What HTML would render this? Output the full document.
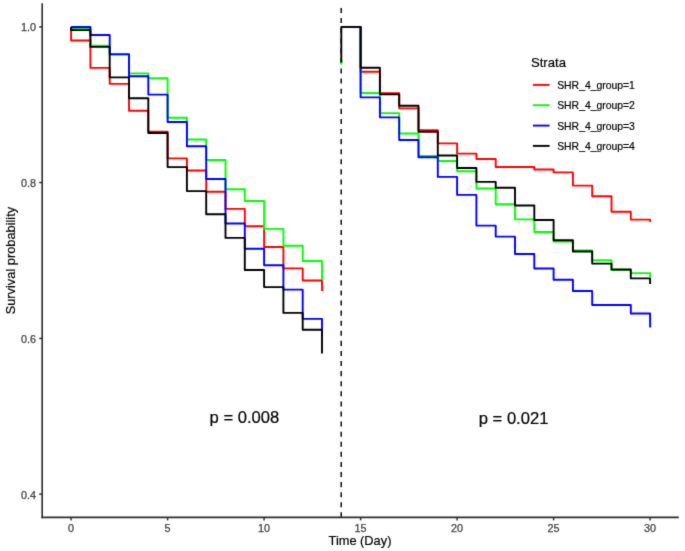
<!DOCTYPE html>
<html><head><meta charset="utf-8"><title>Survival plot</title>
<style>
html,body{margin:0;padding:0;background:#fff;width:685px;height:551px;overflow:hidden}
svg{display:block}
text{font-family:"Liberation Sans",sans-serif}
.tl{font-size:10.2px;fill:#404040;stroke:#404040;stroke-width:0.25px}
.ti{font-size:12.8px;fill:#000;stroke:#000;stroke-width:0.2px}
.pv{font-size:16.6px;fill:#000;stroke:#000;stroke-width:0.2px}
.lt{font-size:13.1px;fill:#000;stroke:#000;stroke-width:0.2px}
.ll{font-size:10.4px;fill:#000;stroke:#000;stroke-width:0.2px}
</style></head><body>
<svg width="685" height="551" viewBox="0 0 685 551">
<defs><filter id="bl" color-interpolation-filters="sRGB" x="0" y="0" width="685" height="551" filterUnits="userSpaceOnUse"><feConvolveMatrix order="3" kernelMatrix="0.02 0.08 0.02 0.08 0.6 0.08 0.02 0.08 0.02" edgeMode="duplicate" preserveAlpha="true"/></filter></defs>
<g filter="url(#bl)">
<rect width="685" height="551" fill="#fff"/>
<line x1="341.2" y1="517.4" x2="341.2" y2="3.3" stroke="#1a1a1a" stroke-width="1.6" stroke-dasharray="5.044,5.044"/>
<g fill="none" stroke-width="1.9" stroke-linejoin="round" stroke-linecap="butt">
<path d="M341.3,64.6 L341.3,60" stroke="#00ff00"/>
<path d="M71.1,26.9 L71.1,40.5 L90.4,40.5 L90.4,67.9 L109.7,67.9 L109.7,83.9 L129.0,83.9 L129.0,110.8 L148.3,110.8 L148.3,131.6 L167.6,131.6 L167.6,158.4 L186.9,158.4 L186.9,170.5 L206.2,170.5 L206.2,191.7 L225.5,191.7 L225.5,208.9 L244.8,208.9 L244.8,226.3 L264.1,226.3 L264.1,247.0 L283.4,247.0 L283.4,268.4 L302.7,268.4 L302.7,280.5 L322.0,280.5 L322.0,291.0" stroke="#ff0000"/>
<path d="M341.3,26.9 L360.6,26.9 L360.6,71.7 L379.9,71.7 L379.9,93.2 L399.2,93.2 L399.2,108.4 L418.5,108.4 L418.5,130.1 L437.8,130.1 L437.8,143.4 L457.1,143.4 L457.1,153.6 L476.4,153.6 L476.4,159.0 L495.7,159.0 L495.7,167.0 L515.0,167.0 L515.0,167.0 L534.3,167.0 L534.3,169.5 L553.6,169.5 L553.6,172.4 L572.9,172.4 L572.9,185.6 L592.2,185.6 L592.2,196.2 L611.5,196.2 L611.5,211.7 L630.8,211.7 L630.8,219.6 L650.1,219.6 L650.1,222.0" stroke="#ff0000"/>
<path d="M71.1,26.9 L71.1,28.5 L90.4,28.5 L90.4,45.8 L109.7,45.8 L109.7,54.9 L129.0,54.9 L129.0,73.4 L148.3,73.4 L148.3,78.2 L167.6,78.2 L167.6,117.7 L186.9,117.7 L186.9,139.5 L206.2,139.5 L206.2,160.0 L225.5,160.0 L225.5,189.2 L244.8,189.2 L244.8,201.0 L264.1,201.0 L264.1,228.9 L283.4,228.9 L283.4,245.8 L302.7,245.8 L302.7,261.0 L322.0,261.0 L322.0,280.0" stroke="#00ff00"/>
<path d="M341.3,26.9 L360.6,26.9 L360.6,93.0 L379.9,93.0 L379.9,113.1 L399.2,113.1 L399.2,133.5 L418.5,133.5 L418.5,156.0 L437.8,156.0 L437.8,161.0 L457.1,161.0 L457.1,171.3 L476.4,171.3 L476.4,188.5 L495.7,188.5 L495.7,204.2 L515.0,204.2 L515.0,219.4 L534.3,219.4 L534.3,232.0 L553.6,232.0 L553.6,241.6 L572.9,241.6 L572.9,250.5 L592.2,250.5 L592.2,260.3 L611.5,260.3 L611.5,270.0 L630.8,270.0 L630.8,273.1 L650.1,273.1 L650.1,277.0" stroke="#00ff00"/>
<path d="M71.1,26.9 L71.1,27.0 L90.4,27.0 L90.4,35.0 L109.7,35.0 L109.7,54.1 L129.0,54.1 L129.0,76.3 L148.3,76.3 L148.3,94.6 L167.6,94.6 L167.6,122.0 L186.9,122.0 L186.9,146.2 L206.2,146.2 L206.2,179.0 L225.5,179.0 L225.5,223.5 L244.8,223.5 L244.8,248.8 L264.1,248.8 L264.1,265.3 L283.4,265.3 L283.4,289.6 L302.7,289.6 L302.7,318.9 L322.0,318.9 L322.0,336.7" stroke="#0000ff"/>
<path d="M341.3,26.9 L360.6,26.9 L360.6,97.4 L379.9,97.4 L379.9,117.4 L399.2,117.4 L399.2,140.0 L418.5,140.0 L418.5,157.2 L437.8,157.2 L437.8,176.9 L457.1,176.9 L457.1,194.9 L476.4,194.9 L476.4,225.6 L495.7,225.6 L495.7,236.6 L515.0,236.6 L515.0,254.0 L534.3,254.0 L534.3,268.5 L553.6,268.5 L553.6,279.7 L572.9,279.7 L572.9,291.0 L592.2,291.0 L592.2,305.0 L611.5,305.0 L611.5,305.0 L630.8,305.0 L630.8,313.5 L650.1,313.5 L650.1,327.4" stroke="#0000ff"/>
<path d="M71.1,26.9 L71.1,30.0 L90.4,30.0 L90.4,46.9 L109.7,46.9 L109.7,77.4 L129.0,77.4 L129.0,98.2 L148.3,98.2 L148.3,133.0 L167.6,133.0 L167.6,167.1 L186.9,167.1 L186.9,191.1 L206.2,191.1 L206.2,214.3 L225.5,214.3 L225.5,237.9 L244.8,237.9 L244.8,270.0 L264.1,270.0 L264.1,287.1 L283.4,287.1 L283.4,312.9 L302.7,312.9 L302.7,329.7 L322.0,329.7 L322.0,353.6" stroke="#000000"/>
<path d="M341.3,62.6 L341.3,26.9 L360.6,26.9 L360.6,67.8 L379.9,67.8 L379.9,94.4 L399.2,94.4 L399.2,105.8 L418.5,105.8 L418.5,131.7 L437.8,131.7 L437.8,155.5 L457.1,155.5 L457.1,168.0 L476.4,168.0 L476.4,181.9 L495.7,181.9 L495.7,187.7 L515.0,187.7 L515.0,205.5 L534.3,205.5 L534.3,220.0 L553.6,220.0 L553.6,240.3 L572.9,240.3 L572.9,251.5 L592.2,251.5 L592.2,263.6 L611.5,263.6 L611.5,269.5 L630.8,269.5 L630.8,278.4 L650.1,278.4 L650.1,284.0" stroke="#000000"/>
</g>
<line x1="42.2" y1="3.3" x2="42.2" y2="518.2" stroke="#2b2b2b" stroke-width="1.6"/>
<line x1="41.4" y1="517.4" x2="678.8" y2="517.4" stroke="#2b2b2b" stroke-width="1.6"/>
<line x1="39.2" y1="26.9" x2="42.2" y2="26.9" stroke="#2b2b2b" stroke-width="1.4"/>
<text x="36.0" y="31.0" text-anchor="end" class="tl" textLength="15.03" lengthAdjust="spacingAndGlyphs">1.0</text>
<line x1="39.2" y1="182.6" x2="42.2" y2="182.6" stroke="#2b2b2b" stroke-width="1.4"/>
<text x="36.0" y="187.0" text-anchor="end" class="tl" textLength="15.03" lengthAdjust="spacingAndGlyphs">0.8</text>
<line x1="39.2" y1="338.4" x2="42.2" y2="338.4" stroke="#2b2b2b" stroke-width="1.4"/>
<text x="36.0" y="343.0" text-anchor="end" class="tl" textLength="15.03" lengthAdjust="spacingAndGlyphs">0.6</text>
<line x1="39.2" y1="494.1" x2="42.2" y2="494.1" stroke="#2b2b2b" stroke-width="1.4"/>
<text x="36.0" y="499.0" text-anchor="end" class="tl" textLength="15.03" lengthAdjust="spacingAndGlyphs">0.4</text>
<line x1="71.1" y1="517.4" x2="71.1" y2="520.4" stroke="#2b2b2b" stroke-width="1.4"/>
<text x="71.1" y="531.7" text-anchor="middle" class="tl" textLength="6.01" lengthAdjust="spacingAndGlyphs">0</text>
<line x1="167.6" y1="517.4" x2="167.6" y2="520.4" stroke="#2b2b2b" stroke-width="1.4"/>
<text x="167.6" y="531.7" text-anchor="middle" class="tl" textLength="6.01" lengthAdjust="spacingAndGlyphs">5</text>
<line x1="264.1" y1="517.4" x2="264.1" y2="520.4" stroke="#2b2b2b" stroke-width="1.4"/>
<text x="264.1" y="531.7" text-anchor="middle" class="tl" textLength="12.02" lengthAdjust="spacingAndGlyphs">10</text>
<line x1="360.6" y1="517.4" x2="360.6" y2="520.4" stroke="#2b2b2b" stroke-width="1.4"/>
<text x="360.6" y="531.7" text-anchor="middle" class="tl" textLength="12.02" lengthAdjust="spacingAndGlyphs">15</text>
<line x1="457.1" y1="517.4" x2="457.1" y2="520.4" stroke="#2b2b2b" stroke-width="1.4"/>
<text x="457.1" y="531.7" text-anchor="middle" class="tl" textLength="12.02" lengthAdjust="spacingAndGlyphs">20</text>
<line x1="553.6" y1="517.4" x2="553.6" y2="520.4" stroke="#2b2b2b" stroke-width="1.4"/>
<text x="553.6" y="531.7" text-anchor="middle" class="tl" textLength="12.02" lengthAdjust="spacingAndGlyphs">25</text>
<line x1="650.1" y1="517.4" x2="650.1" y2="520.4" stroke="#2b2b2b" stroke-width="1.4"/>
<text x="650.1" y="531.7" text-anchor="middle" class="tl" textLength="12.02" lengthAdjust="spacingAndGlyphs">30</text>
<text x="15.3" y="260.6" transform="rotate(-90 15.3 260.6)" text-anchor="middle" class="ti">Survival probability</text>
<text x="360" y="545.0" text-anchor="middle" class="ti">Time (Day)</text>
<text x="244.4" y="422.6" text-anchor="middle" class="pv">p = 0.008</text>
<text x="513.6" y="423.6" text-anchor="middle" class="pv">p = 0.021</text>
<text x="531.0" y="66.6" class="lt">Strata</text>
<line x1="532.9" y1="84.9" x2="549.6" y2="84.9" stroke="#ff0000" stroke-width="1.9"/>
<text x="557.2" y="88.8" class="ll">SHR_4_group=1</text>
<line x1="532.9" y1="105.2" x2="549.6" y2="105.2" stroke="#00ff00" stroke-width="1.9"/>
<text x="557.2" y="109.1" class="ll">SHR_4_group=2</text>
<line x1="532.9" y1="125.6" x2="549.6" y2="125.6" stroke="#0000ff" stroke-width="1.9"/>
<text x="557.2" y="129.5" class="ll">SHR_4_group=3</text>
<line x1="532.9" y1="145.9" x2="549.6" y2="145.9" stroke="#000000" stroke-width="1.9"/>
<text x="557.2" y="149.8" class="ll">SHR_4_group=4</text>
</g></svg>
</body></html>
